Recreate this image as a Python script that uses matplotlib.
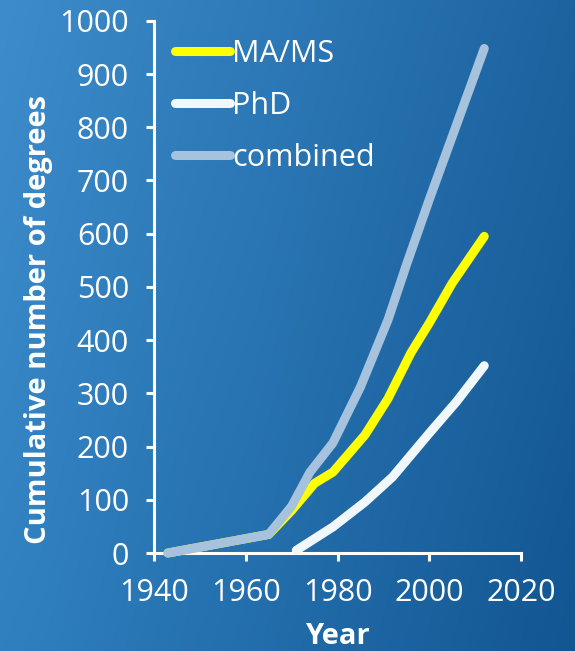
import numpy as np
import matplotlib
matplotlib.use("Agg")
import matplotlib.pyplot as plt

plt.rcParams['font.family'] = ['Open Sans', 'DejaVu Sans']

# data
ma_years = [1943, 1965, 1970, 1975, 1979, 1986, 1991, 1996, 2000, 2005, 2012]
ma_vals = [0, 35, 80, 131, 152, 222, 290, 376, 432, 507, 595]

phd_years = [1971, 1979, 1986, 1992, 2000, 2006, 2012]
phd_vals = [5, 49, 96, 143, 225, 285, 352]

comb_years = [1943, 1965, 1970, 1974, 1979, 1985, 1991, 1995, 2000, 2012]
comb_vals = [0, 35, 88, 152, 207, 312, 438, 541, 664, 948]

x_ticks = [1940, 1960, 1980, 2000, 2020]
y_ticks = list(range(0, 1001, 100))

fig = plt.figure(figsize=(5.75, 6.51), dpi=100)

# blue gradient background
bg = fig.add_axes([0, 0, 1, 1])
bg.axis('off')
tl = np.array([62, 140, 204]) / 255
tr = np.array([28, 100, 160]) / 255
bl = np.array([48, 128, 192]) / 255
br = np.array([18, 86, 146]) / 255
h, w = 120, 120
u = np.linspace(0, 1, w)[None, :, None]
v = np.linspace(0, 1, h)[:, None, None]
grad = (1 - v) * ((1 - u) * tl + u * tr) + v * ((1 - u) * bl + u * br)
bg.imshow(grad, aspect='auto', extent=[0, 1, 0, 1], interpolation='bilinear')
bg.set_xlim(0, 1)
bg.set_ylim(0, 1)

ax = fig.add_axes([0.268, 0.1505, 0.638, 0.8175])
ax.patch.set_alpha(0)

lw = 6.5
ax.plot(ma_years, ma_vals, color='#ffff00', lw=lw, label='MA/MS',
        solid_capstyle='round', solid_joinstyle='round', clip_on=False, zorder=3)
ax.plot(phd_years, phd_vals, color='#f0f8fc', lw=lw, label='PhD',
        solid_capstyle='round', solid_joinstyle='round', clip_on=False, zorder=3)
ax.plot(comb_years, comb_vals, color='#a6c2dc', lw=lw, label='combined',
        solid_capstyle='round', solid_joinstyle='round', clip_on=False, zorder=4)

ax.set_xlim(1940, 2020)
ax.set_ylim(0, 1000)
ax.set_xticks(x_ticks)
ax.set_yticks(y_ticks)

for s in ['top', 'right']:
    ax.spines[s].set_visible(False)
for s in ['left', 'bottom']:
    ax.spines[s].set_color('white')
    ax.spines[s].set_linewidth(2.2)
ax.tick_params(colors='white', width=2.2, length=6, labelsize=22)
ax.tick_params(axis='y', pad=12)
ax.tick_params(axis='x', pad=12)

ax.set_xlabel('Year', color='white', fontsize=21, fontweight='bold', labelpad=10)
ax.set_ylabel('Cumulative number of degrees', color='white', fontsize=21,
              fontweight='bold')
ax.yaxis.set_label_coords(-0.276, 0.438)

leg = ax.legend(loc='upper left', bbox_to_anchor=(0.0, 1.006), frameon=False,
                fontsize=22, handlelength=1.8, handletextpad=0.05,
                labelspacing=0.72, borderaxespad=0.3)
for t in leg.get_texts():
    t.set_color('white')

fig.savefig('out.png', dpi=100)
